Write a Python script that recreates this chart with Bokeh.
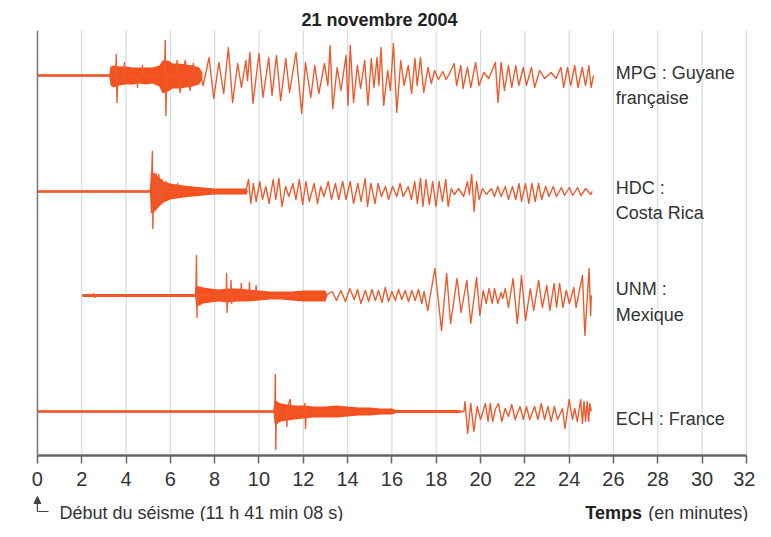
from bokeh.plotting import figure
from bokeh.models import Range1d, Arrow, NormalHead, FixedTicker
from bokeh.core.properties import value
from bokeh.embed import file_html
from bokeh.resources import INLINE

# ---------------- data (time in minutes, amplitude in arbitrary units) ----------------
tick_values = list(range(0, 33, 2))
title_text = "21 novembre 2004"

station_lines = {
    "MPG": ["MPG : Guyane", "française"],
    "HDC": ["HDC :", "Costa Rica"],
    "UNM": ["UNM :", "Mexique"],
    "ECH": ["ECH : France"],
}

mpg_pts = [(0, 0), (3.25, 0), (3.53, 0), (3.56, 21), (3.59, -27), (3.63, 0), (3.90, 0), (3.93, 13),
           (3.96, -6), (4.00, 0), (4.50, 0), (4.52, -12), (4.55, 0), (4.72, 0), (4.74, 10), (4.77, 0),
           (5.74, 0), (5.77, 35), (5.80, -40), (5.84, 0), (6.28, 0), (6.30, 15), (6.44, -17), (6.67, 15),
           (6.89, -15), (7.04, 12), (7.19, -8), (7.30, 6), (7.48, -10), (7.75, 18), (7.96, -23), (8.19, 13),
           (8.41, -18), (8.62, 28), (8.81, -27), (9.04, 12), (9.21, -12), (9.41, 15), (9.48, -5), (9.59, 23),
           (9.73, -28), (10.00, 22), (10.18, -22), (10.44, 18), (10.59, -20), (10.79, 20), (10.98, -25),
           (11.21, 17), (11.38, -17), (11.67, 23), (11.93, -38), (12.10, 13), (12.34, -22), (12.52, 10),
           (12.70, -18), (12.96, 12), (13.11, -10), (13.21, 30), (13.33, -33), (13.53, 8), (13.70, -15),
           (13.93, 20), (14.02, -30), (14.12, 30), (14.27, -27), (14.44, 10), (14.59, -13), (14.77, 15),
           (14.92, -30), (15.07, 17), (15.19, -12), (15.33, 18), (15.41, -10), (15.51, 28), (15.63, -30),
           (15.81, 5), (15.93, -15), (16.07, 32), (16.22, -37), (16.40, 15), (16.55, -10), (16.74, 10),
           (16.89, -18), (17.04, 17), (17.14, -10), (17.29, 18), (17.44, -17), (17.63, 8), (17.78, -8),
           (17.93, 5), (18.10, -4), (18.30, 4), (18.45, -4), (18.62, 3), (18.81, 12), (18.92, -10),
           (19.11, 10), (19.21, -13), (19.41, 8), (19.56, -12), (19.78, 13), (19.93, -10), (20.15, 3),
           (20.37, -3), (20.67, 13), (20.79, -27), (20.93, 13), (21.08, -15), (21.26, 10), (21.41, -12),
           (21.59, 10), (21.73, -10), (21.93, 8), (22.07, -10), (22.30, 8), (22.44, -12), (22.67, 5),
           (22.89, -3), (23.19, 3), (23.41, -3), (23.63, 8), (23.75, -12), (23.93, 8), (24.07, -10),
           (24.25, 10), (24.40, -12), (24.59, 8), (24.74, -10), (24.89, 10), (24.99, -12), (25.10, 0)]
mpg_env_t = [0, 3.25, 3.30, 3.45, 3.70, 4.00, 4.30, 4.60, 4.90, 5.20, 5.50, 5.65, 5.90, 6.10, 6.40, 6.70,
             7.00, 7.30, 7.45]
mpg_env_hi = [1.2, 1.2, 9, 10, 9, 9, 8, 8, 8, 8, 10, 15, 15, 12, 12, 11, 10, 8, 3]
mpg_env_lo = [-1.2, -1.2, -10, -12, -10, -9, -9, -8, -9, -8, -11, -18, -16, -13, -13, -12, -11, -9, -3]

hdc_pts = [(0, 0), (5.08, 0), (5.15, 10), (5.19, 40), (5.21, -37), (5.25, 15), (5.30, -18), (5.36, 18),
           (5.42, -16), (5.48, 17), (5.55, -12), (5.62, 12), (5.70, -10), (5.80, 10), (5.86, 0), (6.30, 0),
           (6.33, 8), (6.36, -5), (6.40, 0), (9.40, 0), (9.53, 12), (9.63, -12), (9.75, 8), (9.87, -10),
           (10.04, 10), (10.16, -8), (10.31, 5), (10.46, -12), (10.64, 12), (10.76, -8), (10.90, 13),
           (11.04, -15), (11.20, 5), (11.35, -5), (11.53, 8), (11.67, -8), (11.82, 12), (11.97, -13),
           (12.12, 10), (12.27, -10), (12.49, 8), (12.64, -12), (12.79, 5), (12.93, -5), (13.13, 10),
           (13.27, -8), (13.45, 8), (13.60, -8), (13.78, 10), (13.93, -8), (14.12, 10), (14.27, -12),
           (14.46, 8), (14.61, -10), (14.79, 13), (14.90, -15), (15.05, 8), (15.24, -12), (15.38, 8),
           (15.53, -5), (15.71, 5), (15.85, -8), (16.03, 5), (16.22, -5), (16.37, 8), (16.51, -5),
           (16.74, 5), (16.88, -8), (17.03, 10), (17.15, -12), (17.29, 13), (17.40, -15), (17.54, 12),
           (17.69, -13), (17.84, 10), (17.99, -15), (18.13, 10), (18.28, -10), (18.43, 12), (18.54, -15),
           (18.68, 3), (18.82, -3), (19.01, 3), (19.24, -5), (19.41, 10), (19.50, -3), (19.60, 17),
           (19.71, -20), (19.82, 10), (19.94, -8), (20.09, 3), (20.26, -3), (20.49, 3), (20.63, -5),
           (20.78, 5), (20.93, -5), (21.12, 5), (21.26, -8), (21.44, 5), (21.59, -8), (21.74, 8),
           (21.85, -10), (22.03, 8), (22.18, -12), (22.32, 8), (22.47, -10), (22.62, 8), (22.76, -8),
           (22.94, 5), (23.09, -5), (23.28, 5), (23.43, -5), (23.65, 4), (23.79, -4), (24.01, 4),
           (24.16, -4), (24.38, 4), (24.53, -4), (24.75, 3), (24.97, -3), (25.04, 0)]
hdc_env_t = [0, 5.08, 5.12, 5.30, 5.50, 5.70, 6.00, 6.30, 6.60, 7.00, 7.50, 8.00, 8.50, 9.00, 9.45, 9.50]
hdc_env_hi = [1.2, 1.2, 20, 18, 14, 10, 8, 7, 6, 5, 4, 3, 3, 3, 3, 0]
hdc_env_lo = [-1.2, -1.2, -22, -20, -15, -11, -8, -7, -6, -5, -4, -3, -3, -3, -3, 0]

unm_pts = [(2.02, 0), (2.50, 0), (2.55, 2), (2.60, -2), (2.65, 0), (7.14, 0), (7.16, 12), (7.18, 40),
           (7.20, -22), (7.23, 8), (7.26, -10), (7.30, 0), (8.52, 0), (8.54, 22), (8.56, -17), (8.60, 0),
           (8.72, 0), (8.74, 15), (8.77, -8), (8.80, 0), (9.18, 0), (9.20, 12), (9.23, 0), (9.55, 0),
           (9.57, 13), (9.60, 0), (9.85, 0), (9.87, 10), (9.90, 0), (13.00, 0), (13.30, 4), (13.50, -5),
           (13.70, 5), (13.90, -6), (14.10, 7), (14.30, -4), (14.45, 6), (14.60, -8), (14.80, 5),
           (14.95, -6), (15.10, 6), (15.25, -5), (15.40, 5), (15.55, -7), (15.70, 8), (15.85, -6),
           (16.00, 4), (16.15, -5), (16.30, 6), (16.45, -4), (16.60, 5), (16.75, -6), (16.90, 5),
           (17.05, -5), (17.20, 6), (17.35, -8), (17.45, 4), (17.62, -15), (17.94, 27), (18.24, -35),
           (18.47, 22), (18.65, -28), (18.94, 17), (19.12, -17), (19.38, 15), (19.56, -28), (19.82, 18),
           (19.97, -20), (20.12, 5), (20.26, -8), (20.38, 7), (20.53, -8), (20.63, 7), (20.78, -8),
           (20.93, 3), (21.00, -3), (21.12, 7), (21.26, -12), (21.47, 17), (21.66, -28), (21.85, 20),
           (22.03, -25), (22.25, 7), (22.40, -15), (22.62, 15), (22.79, -12), (22.99, 10), (23.13, -15),
           (23.32, 12), (23.43, -12), (23.57, 12), (23.72, -12), (23.87, 5), (24.01, -8), (24.21, 8),
           (24.31, -12), (24.60, 20), (24.71, -40), (24.90, 27), (24.97, -20), (25.00, 0)]
unm_env_t = [2.02, 2.05, 3.0, 4.0, 5.0, 6.0, 7.12, 7.16, 7.3, 7.5, 7.8, 8.2, 8.6, 9.0, 9.5, 10.0, 10.5,
             11.0, 11.5, 12.0, 12.5, 13.0, 13.1]
unm_env_hi = [0, 1.5, 1.5, 1.5, 1.5, 1.5, 1.5, 10, 9, 8, 7, 6, 7, 7, 6, 5, 4, 4, 4, 5, 5, 5, 0]
unm_env_lo = [0, -1.5, -1.5, -1.5, -1.5, -1.5, -1.5, -10, -10, -8, -7, -6, -7, -6, -6, -5, -4, -4, -5, -6, -6, -6, 0]

ech_pts = [(0, 0), (10.67, 0), (10.72, 8), (10.74, 37), (10.76, -38), (10.79, 10), (10.83, -12), (10.88, 0),
           (11.24, 0), (11.26, -15), (11.30, 5), (11.41, 12), (11.45, 0), (12.04, 0), (12.07, 8),
           (12.10, -17), (12.14, 0), (19.25, 0), (19.30, 10), (19.42, -22), (19.56, 8), (19.70, -20),
           (19.85, 5), (20.00, -8), (20.22, 8), (20.34, -10), (20.44, 8), (20.55, -10), (20.68, 3),
           (20.81, 8), (20.96, -10), (21.11, 3), (21.26, -5), (21.41, 7), (21.56, -8), (21.78, 5),
           (21.93, -8), (22.07, 5), (22.22, -8), (22.44, 5), (22.59, -8), (22.74, 8), (22.89, -8),
           (23.04, 5), (23.19, -10), (23.33, 5), (23.48, -8), (23.70, 3), (23.81, -17), (24.00, 12),
           (24.15, -8), (24.25, 3), (24.37, -10), (24.52, 12), (24.60, -12), (24.67, 10), (24.74, -10),
           (24.81, 10), (24.88, -10), (24.93, 8), (25.00, 0)]
ech_env_t = [0, 10.66, 10.70, 10.8, 11.0, 11.3, 11.6, 12.0, 12.5, 13.0, 13.5, 14.0, 14.5, 15.0, 15.5,
             16.0, 16.2, 17.0, 18.0, 19.0, 19.3]
ech_env_hi = [1.2, 1.2, 10, 10, 8, 7, 6, 6, 5, 5, 6, 5, 4, 4, 3, 3, 1.5, 1.5, 1.5, 1.5, 0]
ech_env_lo = [-1.2, -1.2, -12, -12, -10, -9, -8, -7, -6, -6, -6, -5, -4, -4, -3, -3, -1.5, -1.5, -1.5, -1.5, 0]

# ---------------- layout / style ----------------
FONT = "Liberation Sans, Arial, Helvetica, sans-serif"
DENSE = "#f4511e"
WAVE = "#ee5a2c"
TOP = 425          # top of the drawing area (data units = pixels)
BOTTOM = -66       # bottom of the canvas below the time axis
X_LEFT, X_RIGHT = -1.53, 32.41
baselines = {"MPG": 380, "HDC": 264, "UNM": 160, "ECH": 44}
label_x = 26.1
label_y = {"MPG": [383, 358], "HDC": [268, 243], "UNM": [167, 141], "ECH": [37]}

traces = {
    "MPG": (mpg_pts, mpg_env_t, mpg_env_hi, mpg_env_lo),
    "HDC": (hdc_pts, hdc_env_t, hdc_env_hi, hdc_env_lo),
    "UNM": (unm_pts, unm_env_t, unm_env_hi, unm_env_lo),
    "ECH": (ech_pts, ech_env_t, ech_env_hi, ech_env_lo),
}

p = figure(width=755, height=521, x_range=Range1d(X_LEFT, X_RIGHT), y_range=Range1d(BOTTOM, TOP),
           output_backend="svg", toolbar_location=None,
           min_border_left=3, min_border_right=0, min_border_top=30, min_border_bottom=0)
p.outline_line_color = None
p.background_fill_color = "white"
p.border_fill_color = "white"

p.title.text = title_text
p.title.align = "center"
p.title.text_font = FONT
p.title.text_font_size = "18px"
p.title.text_font_style = "bold"
p.title.text_color = "#222222"
p.title.standoff = 2

# vertical guide lines every 2 minutes, from the time axis up to the top
p.xgrid.visible = False
p.ygrid.visible = False
p.segment(x0=tick_values, y0=[0] * len(tick_values), x1=tick_values, y1=[TOP] * len(tick_values),
          line_color="#c8e0ea", line_width=1.2)

p.xaxis.fixed_location = 0
p.xaxis.bounds = (0, 32)
p.xaxis.ticker = FixedTicker(ticks=tick_values)
p.xaxis.axis_line_color = "#666666"
p.xaxis.axis_line_width = 2.5
p.xaxis.major_tick_line_color = "#666666"
p.xaxis.major_tick_line_width = 1.5
p.xaxis.major_tick_out = 8
p.xaxis.major_tick_in = 0
p.xaxis.minor_tick_line_color = None
p.xaxis.major_label_text_font = FONT
p.xaxis.major_label_text_font_size = "20px"
p.xaxis.major_label_text_color = "#333333"
p.xaxis.major_label_standoff = 8

p.yaxis.fixed_location = 0
p.yaxis.ticker = FixedTicker(ticks=[])
p.yaxis.bounds = (0, TOP)
p.yaxis.axis_line_color = "#777777"
p.yaxis.axis_line_width = 1.5
p.yaxis.major_tick_line_color = None
p.yaxis.minor_tick_line_color = None
p.yaxis.major_label_text_font_size = "0px"

for key, (pts, et, ehi, elo) in traces.items():
    b = baselines[key]
    t = [q[0] for q in pts]
    a = [b + q[1] for q in pts]
    p.varea(x=et, y1=[b + v for v in elo], y2=[b + v for v in ehi], fill_color=DENSE, fill_alpha=1.0)
    p.line(t, a, line_color=WAVE, line_width=1.4, line_join="round")
    lines = station_lines[key]
    p.text(x=[label_x] * len(lines), y=label_y[key], text=lines, text_font=value(FONT),
           text_font_size="18px", text_color="#333333", text_baseline="middle", text_align="left")

# start-of-earthquake marker and notes under the axis
p.add_layout(Arrow(end=NormalHead(size=7, fill_color="#444444", line_color="#444444"),
                   x_start=0, y_start=-56, x_end=0, y_end=-41, line_color="#444444", line_width=1.2))
p.add_layout(Arrow(end=None, x_start=0, y_start=-56, x_end=0.5, y_end=-56,
                   line_color="#444444", line_width=1.2))
p.text(x=[1.0], y=[-57], text=["Début du séisme (11 h 41 min 08 s)"], text_font=value(FONT),
       text_font_size="18px", text_color="#333333", text_baseline="middle")
p.text(x=[24.73], y=[-57], text=["Temps"], text_font=value(FONT), text_font_size="18px",
       text_font_style="bold", text_color="#222222", text_baseline="middle")
p.text(x=[27.57], y=[-57], text=["(en minutes)"], text_font=value(FONT), text_font_size="18px",
       text_color="#333333", text_baseline="middle")

open("out.html", "w").write(file_html(p, INLINE))
